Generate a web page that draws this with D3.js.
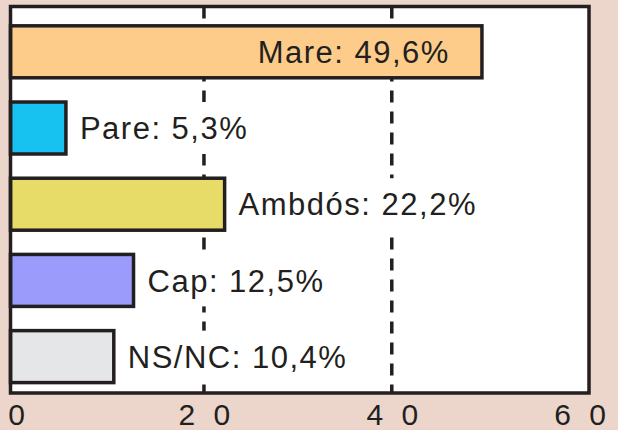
<!DOCTYPE html>
<html lang="en">
<head>
  <meta charset="utf-8">
  <title>Mare, Pare, Ambdós</title>
  <style>
    html, body { margin: 0; padding: 0; background: #ecd6cb; }
    #chart { width: 618px; height: 430px; }
    text { font-family: "Liberation Sans", Arial, Helvetica, sans-serif; fill: #231f20; }
  </style>
</head>
<body>
<div id="chart"></div>

<script src="https://cdn.jsdelivr.net/npm/d3@7"></script>
<script>
  // data
  const categories = ["Mare", "Pare", "Ambdós", "Cap", "NS/NC"];
  const values = [49.6, 5.3, 22.2, 12.5, 10.4];
  const fills = ["#fdcc8a", "#17c2f0", "#e8dc68", "#9b9bfc", "#e5e6e7"];
  const tickValues = [0, 20, 40, 60];
  const tickLabels = ["0", "2 0", "4 0", "6 0"];
  const gridValues = [20, 40];

  const width = 618, height = 430;
  const ink = "#231f20";

  const svg = d3.select("#chart")
    .append("svg")
    .attr("width", width)
    .attr("height", height);

  // frame = plot range
  const x = d3.scaleLinear().domain([-0.6, 61]).range([10.5, 589]);
  const y = d3.scaleBand()
    .domain(categories)
    .range([6.5, 393])
    .paddingInner(0.318)
    .paddingOuter(0.195)
    .align(0.65);

  const fmt = v => String(v).replace(".", ",") + "%";

  svg.append("rect")
    .attr("x", x.range()[0])
    .attr("y", y.range()[0])
    .attr("width", x.range()[1] - x.range()[0])
    .attr("height", y.range()[1] - y.range()[0])
    .attr("fill", "#fff");

  // dashed grid
  svg.selectAll(".grid")
    .data(gridValues)
    .enter()
    .append("line")
      .attr("class", "grid")
      .attr("x1", d => x(d))
      .attr("x2", d => x(d))
      .attr("y1", y.range()[0])
      .attr("y2", y.range()[1])
      .attr("stroke", ink)
      .attr("stroke-width", 3.5)
      .attr("stroke-dasharray", "12,9");

  const rows = categories.map((c, i) => ({ name: c, value: values[i], fill: fills[i], inside: i === 0 }));

  const labelSize = 31;

  // labels first (white box behind the outside ones), so we can measure
  const labels = svg.append("g").attr("class", "labels");

  rows.forEach(r => {
    const cy = y(r.name) + y.bandwidth() / 2;
    const end = x(r.value);
    const t = labels.append("text")
      .attr("y", cy)
      .attr("dy", "0.36em")
      .style("font-size", labelSize + "px")
      .style("letter-spacing", "1.5px")
      .text(r.name + ": " + fmt(r.value));
    if (r.inside) {
      t.attr("x", end - 32).attr("text-anchor", "end");
    } else {
      t.attr("x", end + 14);
      const bb = t.node().getBBox();
      labels.insert("rect", "text")
        .attr("x", bb.x - 2)
        .attr("y", y(r.name))
        .attr("width", bb.width + 4)
        .attr("height", y.bandwidth())
        .attr("fill", "#fff");
    }
  });

  // bars
  svg.insert("g", ".labels")
    .selectAll("rect")
    .data(rows)
    .enter()
    .append("rect")
      .attr("x", x.range()[0])
      .attr("y", d => y(d.name))
      .attr("width", d => x(d.value) - x.range()[0])
      .attr("height", y.bandwidth())
      .attr("fill", d => d.fill)
      .attr("stroke", ink)
      .attr("stroke-width", 3.5);

  // frame on top
  svg.append("rect")
    .attr("x", x.range()[0])
    .attr("y", y.range()[0])
    .attr("width", x.range()[1] - x.range()[0])
    .attr("height", y.range()[1] - y.range()[0])
    .attr("fill", "none")
    .attr("stroke", ink)
    .attr("stroke-width", 3.5);

  // x axis labels
  const axis = d3.axisBottom(x)
    .tickValues(tickValues)
    .tickSize(0)
    .tickPadding(11)
    .tickFormat((d, i) => tickLabels[i]);

  svg.append("g")
    .attr("transform", "translate(0," + y.range()[1] + ")")
    .call(axis)
    .call(g => g.select(".domain").remove())
    .selectAll("text")
      .attr("fill", ink)
      .style("font-size", "30px")
      .style("letter-spacing", "5px")
      .attr("dx", "2.5px");
</script>
</body>
</html>
